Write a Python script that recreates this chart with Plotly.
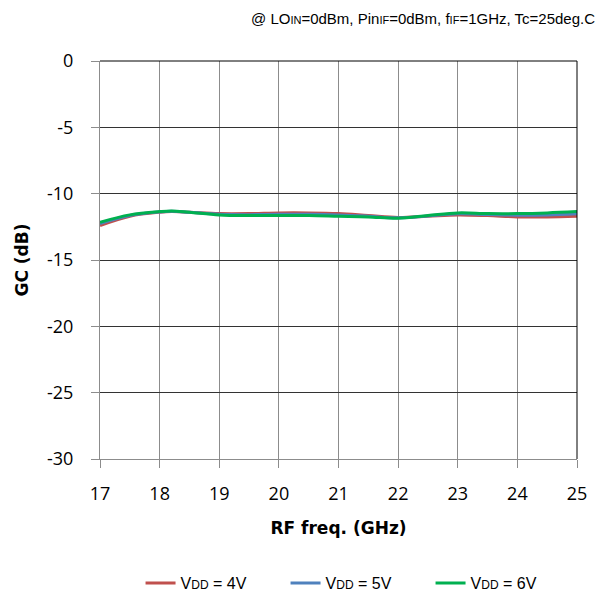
import plotly.graph_objects as go

freq = [17, 17.5, 18, 18.2, 18.5, 19, 19.5, 20, 20.5, 21, 21.5, 22, 22.5, 23, 23.5, 24, 24.5, 25]
gc_4v = [-12.4, -11.7, -11.4, -11.35, -11.4, -11.5, -11.5, -11.45, -11.45, -11.5, -11.65, -11.8, -11.7, -11.6, -11.65, -11.75, -11.75, -11.7]
gc_5v = [-12.25, -11.65, -11.38, -11.33, -11.4, -11.55, -11.58, -11.55, -11.55, -11.6, -11.7, -11.82, -11.68, -11.52, -11.57, -11.62, -11.6, -11.52]
gc_6v = [-12.15, -11.6, -11.35, -11.3, -11.4, -11.6, -11.65, -11.65, -11.65, -11.7, -11.75, -11.85, -11.65, -11.45, -11.5, -11.5, -11.45, -11.35]

series = [
    ("V<span style='font-size:12px'>DD</span> = 4V", gc_4v, "#C0504D"),
    ("V<span style='font-size:12px'>DD</span> = 5V", gc_5v, "#4F81BD"),
    ("V<span style='font-size:12px'>DD</span> = 6V", gc_6v, "#00B050"),
]

x_ticks = [17, 18, 19, 20, 21, 22, 23, 24, 25]
y_ticks = [0, -5, -10, -15, -20, -25, -30]

fig = go.Figure()
for name, ys, col in series:
    fig.add_trace(go.Scatter(x=freq, y=ys, mode="lines", name=name,
                             line=dict(color=col, width=3, shape="spline", smoothing=1.0)))

tickfont = dict(family="Open Sans", size=18, color="black")
fig.update_layout(
    width=609, height=600,
    margin=dict(l=100, r=32, t=61, b=141),
    plot_bgcolor="white", paper_bgcolor="white",
    showlegend=True,
    legend=dict(orientation="h", x=0.085, xanchor="left", yref="container", y=0.028, yanchor="middle",
                font=dict(family="Liberation Sans", size=16, color="black"),
                itemwidth=30, entrywidth=100, entrywidthmode="pixels", tracegroupgap=0),
    xaxis=dict(range=[17, 25], tickvals=x_ticks, ticktext=[str(v) for v in x_ticks],
               showgrid=True, gridcolor="#8c8c8c", gridwidth=1,
               showline=True, linecolor="#8c8c8c", linewidth=1, mirror=False,
               ticks="outside", ticklen=8, tickcolor="#8c8c8c", ticklabelstandoff=10,
               tickfont=tickfont, zeroline=False, automargin=False,
               title=dict(text="<b>RF freq. (GHz)</b>", font=dict(family="DejaVu Sans", size=17, color="black"), standoff=18)),
    yaxis=dict(range=[-30, 0], tickvals=y_ticks, ticktext=[str(v) for v in y_ticks],
               showgrid=True, gridcolor="#333333", gridwidth=1,
               showline=True, linecolor="#8c8c8c", linewidth=1,
               ticks="outside", ticklen=8, tickcolor="#8c8c8c", ticklabelstandoff=14,
               tickfont=tickfont, zeroline=False, automargin=False,
               title=dict(text="<b>GC (dB)</b>", font=dict(family="DejaVu Sans", size=17, color="black"), standoff=14)),
    annotations=[dict(text="@ LO<span style='font-size:11px'>IN</span>=0dBm, Pin<span style='font-size:11px'>IF</span>=0dBm, f<span style='font-size:11px'>IF</span>=1GHz, Tc=25deg.C",
                      xref="paper", yref="paper", x=1.042, y=1.0, yanchor="bottom", xanchor="right",
                      yshift=32, showarrow=False,
                      font=dict(family="Liberation Sans", size=15, color="black"))],
    shapes=[
        dict(type="line", xref="paper", yref="paper", x0=1, x1=1, y0=0, y1=1, line=dict(color="black", width=1)),
        dict(type="line", xref="paper", yref="paper", x0=0, x1=1, y0=1, y1=1, line=dict(color="black", width=1)),
    ],
)

fig.write_html("out.html")
